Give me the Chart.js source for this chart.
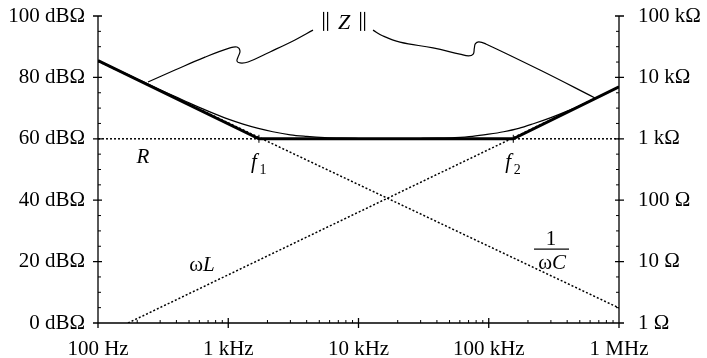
<!DOCTYPE html>
<html><head><meta charset="utf-8">
<script src="https://cdn.jsdelivr.net/npm/chart.js@4/dist/chart.umd.min.js"></script>
<style>html,body{margin:0;padding:0;background:#fff;}#wrap{width:707px;height:358px;}</style>
</head><body><div id="wrap"><canvas id="c" width="707" height="358"></canvas></div>
<script>
// ---- data (frequency in Hz, level in dBΩ) ----
const freqTicks = [100, 1000, 10000, 100000, 1000000];
const freqLabels = ['100 Hz', '1 kHz', '10 kHz', '100 kHz', '1 MHz'];
const dbTicks = [0, 20, 40, 60, 80, 100];
const dbLabels = ['0 dBΩ', '20 dBΩ', '40 dBΩ', '60 dBΩ', '80 dBΩ', '100 dBΩ'];
const ohmLabels = ['1 Ω', '10 Ω', '100 Ω', '1 kΩ', '10 kΩ', '100 kΩ'];

const rFreq = [100, 1000000];
const rDb = [60, 60];
const capFreq = [100, 1000000];
const capDb = [85.3, 4.9];
const indFreq = [170, 1000000];
const indDb = [0, 76.9];
const cornerFreq = [1720, 154300];           // f1, f2
const asymFreq = [100, 1720, 154300, 1000000];
const asymDb = [85.5, 60, 60, 76.9];
const zFreq = [100, 150, 200, 300, 400, 500, 700, 1000, 1300, 1700, 2200, 3000, 4000, 5500, 7500, 10000,
  15000, 20000, 30000, 40000, 55000, 75000, 100000, 130000, 170000, 220000, 300000, 400000, 550000, 750000, 1000000];
const zDb = [85.5, 82.0, 79.5, 76.0, 73.6, 71.7, 69.0, 66.4, 64.8, 63.4, 62.3, 61.3, 60.8, 60.4, 60.2, 60.1,
  60.0, 60.0, 60.1, 60.2, 60.4, 60.8, 61.5, 62.3, 63.4, 64.9, 66.9, 69.0, 71.6, 74.2, 76.9];
const braceLeftFreq = [242, 390, 663, 1031, 1167, 1231, 1188, 1167, 1231, 1418, 2092, 3254, 4474];
const braceLeftDb = [78.5, 82.4, 86.6, 89.6, 89.9, 88.6, 86.6, 85.3, 84.7, 85.0, 88.3, 92.2, 95.4];
const braceRightFreq = [12925, 15423, 20828, 37330, 60000, 70000, 76000, 77500, 79000, 84000, 95000, 247500, 654200];
const braceRightDb = [95.4, 93.5, 91.5, 89.6, 87.6, 87.0, 87.6, 89.5, 91.0, 91.6, 90.9, 82.4, 73.3];

const pts = (xs, ys) => xs.map((x, i) => ({x: x, y: ys[i]}));
const FONT = '"Liberation Serif", "Times New Roman", serif';

const axesPlugin = {
  id: 'axesAndNotes',
  afterDatasetsDraw(chart) {
    const ctx = chart.ctx, xs = chart.scales.x, ys = chart.scales.y;
    const L = xs.left, R = xs.right, T = ys.top, B = ys.bottom;
    ctx.save();
    ctx.strokeStyle = '#000'; ctx.fillStyle = '#000'; ctx.lineWidth = 1.3;
    ctx.beginPath();
    ctx.moveTo(L, T); ctx.lineTo(L, B);
    ctx.moveTo(R, T); ctx.lineTo(R, B);
    ctx.moveTo(L - 5, B); ctx.lineTo(R + 1, B);
    dbTicks.forEach(v => {
      const y = ys.getPixelForValue(v);
      ctx.moveTo(L - 5, y); ctx.lineTo(L + 4, y);
      ctx.moveTo(R - 4, y); ctx.lineTo(R + 5, y);
    });
    freqTicks.forEach(v => {
      const x = xs.getPixelForValue(v);
      ctx.moveTo(x, B - 5); ctx.lineTo(x, B + 5);
    });
    ctx.stroke();
    ctx.lineWidth = 1;
    ctx.beginPath();
    for (let v = 5; v < 100; v += 5) {
      if (v % 20 === 0) continue;
      const y = ys.getPixelForValue(v);
      ctx.moveTo(L, y); ctx.lineTo(L + 3, y);
      ctx.moveTo(R - 3, y); ctx.lineTo(R, y);
    }
    for (let d = 100; d < 1000000; d *= 10) {
      for (let m = 2; m <= 9; m++) {
        const x = xs.getPixelForValue(d * m);
        ctx.moveTo(x, B); ctx.lineTo(x, B - 3);
      }
    }
    cornerFreq.forEach(f => {
      const x = xs.getPixelForValue(f), y = ys.getPixelForValue(60);
      ctx.moveTo(x, y - 4); ctx.lineTo(x, y + 4);
    });
    ctx.stroke();

    const P = (f, db) => [xs.getPixelForValue(f), ys.getPixelForValue(db)];
    ctx.textBaseline = 'alphabetic';
    let [x, y] = P(221, 60);
    ctx.textAlign = 'center';
    ctx.font = 'italic 21px ' + FONT;
    ctx.fillText('R', x, y + 24);
    cornerFreq.forEach((f, i) => {
      const [cx, cy] = P(f, 60);
      ctx.font = 'italic 21px ' + FONT;
      ctx.textAlign = 'center';
      ctx.fillText('f', cx - 5, cy + 29);
      ctx.font = '14px ' + FONT;
      ctx.fillText(String(i + 1), cx + 4, cy + 35);
    });
    [x, y] = P(640, 16.9);
    ctx.textAlign = 'right';
    ctx.font = '21px ' + FONT;
    ctx.fillText('ω', x, y);
    ctx.textAlign = 'left';
    ctx.font = 'italic 21px ' + FONT;
    ctx.fillText('L', x, y);
    [x, y] = P(300600, 24.1);
    ctx.textAlign = 'center';
    ctx.font = '21px ' + FONT;
    ctx.fillText('1', x, y - 4);
    ctx.fillRect(x - 17, y - 0.5, 35, 1.2);
    ctx.textAlign = 'right';
    ctx.fillText('ω', x + 1, y + 20);
    ctx.textAlign = 'left';
    ctx.font = 'italic 21px ' + FONT;
    ctx.fillText('C', x + 1, y + 20);
    [x, y] = P(7740, 95.8);
    ctx.fillRect(x - 21, y - 17, 1.2, 19);
    ctx.fillRect(x - 17, y - 17, 1.2, 19);
    ctx.fillRect(x + 16, y - 17, 1.2, 19);
    ctx.fillRect(x + 20, y - 17, 1.2, 19);
    ctx.textAlign = 'center';
    ctx.font = 'italic 22px ' + FONT;
    ctx.fillText('Z', x, y);
    ctx.restore();
  }
};

const tickFont = {family: FONT, size: 21};
const dotted = {borderColor: '#000', borderWidth: 1.5, borderDash: [2, 2], pointRadius: 0, showLine: true, fill: false};
const noPad = s => { s.paddingTop = 0; s.paddingBottom = 0; s.paddingLeft = 0; s.paddingRight = 0; };

new Chart(document.getElementById('c'), {
  type: 'scatter',
  data: {
    datasets: [
      Object.assign({data: pts(rFreq, rDb)}, dotted),
      Object.assign({data: pts(capFreq, capDb)}, dotted),
      Object.assign({data: pts(indFreq, indDb)}, dotted),
      {data: pts(zFreq, zDb), borderColor: '#000', borderWidth: 1.2, pointRadius: 0, showLine: true, cubicInterpolationMode: 'monotone'},
      {data: pts(asymFreq, asymDb), borderColor: '#000', borderWidth: 3, pointRadius: 0, showLine: true, tension: 0},
      {data: pts(braceLeftFreq, braceLeftDb), borderColor: '#000', borderWidth: 1.2, pointRadius: 0, showLine: true, tension: 0.4},
      {data: pts(braceRightFreq, braceRightDb), borderColor: '#000', borderWidth: 1.2, pointRadius: 0, showLine: true, tension: 0.4}
    ]
  },
  options: {
    responsive: false, animation: false, events: [],
    layout: {padding: {top: 16, left: 0, right: 0, bottom: 0}},
    plugins: {legend: {display: false}, tooltip: {enabled: false}},
    scales: {
      x: {
        type: 'logarithmic', min: 100, max: 1000000, position: 'bottom',
        grid: {display: false, drawTicks: false}, border: {display: false},
        afterBuildTicks: s => { s.ticks = freqTicks.map(v => ({value: v})); },
        ticks: {autoSkip: false, maxRotation: 0, padding: 14, font: tickFont, color: '#000',
          callback: v => { const i = freqTicks.indexOf(v); return i >= 0 ? freqLabels[i] : ''; }},
        afterFit: s => { s.height = 35; noPad(s); }
      },
      y: {
        type: 'linear', min: 0, max: 100, position: 'left',
        grid: {display: false, drawTicks: false}, border: {display: false},
        afterBuildTicks: s => { s.ticks = dbTicks.map(v => ({value: v})); },
        ticks: {padding: 13, font: tickFont, color: '#000',
          callback: v => dbLabels[dbTicks.indexOf(v)]},
        afterFit: s => { s.width = 98; noPad(s); }
      },
      y2: {
        type: 'linear', min: 0, max: 100, position: 'right',
        grid: {display: false, drawTicks: false}, border: {display: false},
        afterBuildTicks: s => { s.ticks = dbTicks.map(v => ({value: v})); },
        ticks: {padding: 19, font: tickFont, color: '#000',
          callback: v => ohmLabels[dbTicks.indexOf(v)]},
        afterFit: s => { s.width = 88; noPad(s); }
      }
    }
  },
  plugins: [axesPlugin]
});
</script></body></html>
